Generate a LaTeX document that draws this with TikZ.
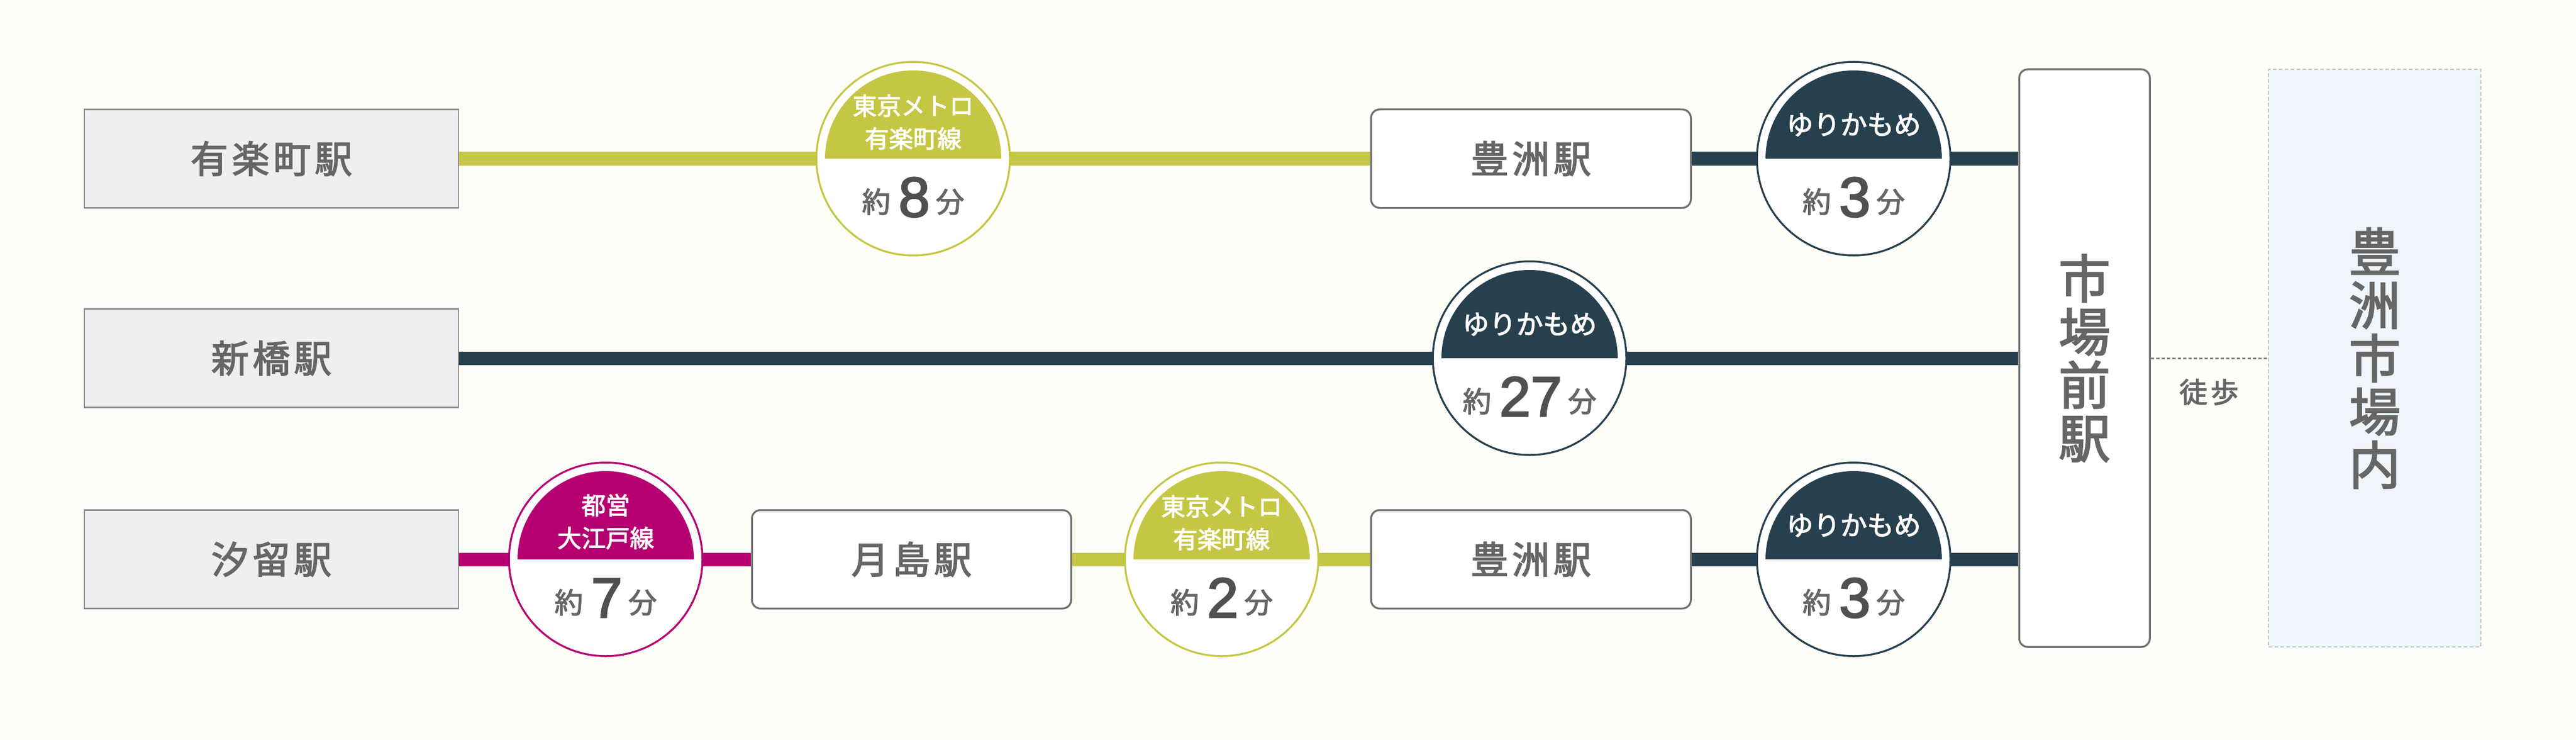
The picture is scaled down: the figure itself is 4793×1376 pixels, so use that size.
\documentclass[tikz,border=0pt]{standalone}
\usepackage{fontspec}
\setmainfont{Noto Sans CJK JP}[FakeBold=2.5]
\newfontfamily\digitfont{Liberation Sans}[FakeBold=2.5]
\newfontfamily\lsfont{Noto Sans CJK JP}[LetterSpace=10,FakeBold=2.5]
\usetikzlibrary{calc}
\definecolor{bg}{RGB}{254,254,249}
\definecolor{olive}{RGB}{197,199,68}
\definecolor{navy}{RGB}{39,64,78}
\definecolor{lmag}{RGB}{182,0,113}
\definecolor{txt}{RGB}{102,102,102}
\definecolor{digitc}{RGB}{80,80,80}
\definecolor{boxgray}{RGB}{112,112,112}
\definecolor{leftfill}{RGB}{239,239,241}
\definecolor{leftedge}{RGB}{138,138,138}
\definecolor{marketfill}{RGB}{239,245,250}
\definecolor{marketedge}{RGB}{195,195,195}
\definecolor{walkc}{RGB}{128,128,128}
\newcommand\mybadge[7]{%
  \node[badge=#3] (#1) at #2 {};
  \fill[#3] (#1.center) ++(-164,0) arc[start angle=180,end angle=360,radius=164] -- cycle;
  \node[labeltext, font=#7] (#1-line) at ($(#1.center)+(0,#5)$) {#4};
  \node[timetext, anchor=base] (#1-time) at ($(#1.center)+(0,108)$)
    {\raisebox{8bp}{約}\hspace{15bp}{\digitfont\color{digitc}\fontsize{105bp}{105bp}\selectfont #6}\hspace{11bp}\raisebox{8bp}{分}};
}
\begin{document}
\begin{tikzpicture}[x=1bp,y=-1bp,
  leftbox/.style={draw=leftedge, fill=leftfill, line width=2.5bp, minimum width=696bp,
    minimum height=183bp, inner sep=0pt, text=txt, font=\lsfont\fontsize{70bp}{84bp}\selectfont},
  stationbox/.style={draw=boxgray, fill=white, line width=3.5bp, rounded corners=16bp,
    minimum width=595bp, minimum height=183bp, inner sep=0pt, text=txt,
    font=\lsfont\fontsize{70bp}{84bp}\selectfont},
  tallbox/.style={draw=boxgray, fill=white, line width=3.5bp, rounded corners=16bp,
    minimum width=243bp, minimum height=1074bp, inner sep=0pt, text=txt, align=center,
    font=\fontsize{96bp}{99bp}\selectfont},
  marketbox/.style={draw=marketedge, fill=marketfill, line width=2bp, dash pattern=on 7bp off 4bp,
    minimum width=395bp, minimum height=1073bp, inner sep=0pt, text=txt, align=center,
    font=\fontsize{96bp}{99bp}\selectfont},
  railline/.style={line width=25bp},
  badge/.style={circle, draw=#1, fill=white, line width=3.5bp, minimum size=360bp, inner sep=0pt},
  labeltext/.style={text=white, align=center, inner sep=0pt},
  timetext/.style={text=txt, inner sep=0pt, font=\fontsize{53bp}{60bp}\selectfont},
  walkline/.style={draw=walkc, line width=3bp, dash pattern=on 6bp off 4bp}
]
\fill[bg] (0,0) rectangle (4793,1376);
\useasboundingbox (0,0) rectangle (4793,1376);

% stations
\node[leftbox] (yurakucho) at (505,295) {有楽町駅};
\node[leftbox] (shimbashi) at (505,666) {新橋駅};
\node[leftbox] (shiodome) at (505,1040) {汐留駅};
\node[stationbox] (toyosuA) at (2848.5,295) {豊洲駅};
\node[stationbox, minimum width=594bp] (tsukishima) at (1696,1040) {月島駅};
\node[stationbox] (toyosuB) at (2848.5,1040) {豊洲駅};
\node[tallbox] (shijomae) at (3878.5,666) {市\\場\\前\\駅};
\node[marketbox] (market) at (4418.5,666) {};
\node[text=txt, align=center, font=\fontsize{96bp}{99bp}\selectfont] (marketlabel) at (market.center) {豊\\洲\\市\\場\\内};

% rail lines
\draw[railline, olive] (yurakucho.east) -- (toyosuA.west);
\draw[railline, navy] (toyosuA.east) -- (toyosuA.east -| shijomae.west);
\draw[railline, navy] (shimbashi.east) -- (shimbashi.east -| shijomae.west);
\draw[railline, lmag] (shiodome.east) -- (tsukishima.west);
\draw[railline, olive] (tsukishima.east) -- (toyosuB.west);
\draw[railline, navy] (toyosuB.east) -- (toyosuB.east -| shijomae.west);

% walk
\draw[walkline] (shijomae.east) -- (market.west);
\node[text=txt, inner sep=0pt, font=\fontsize{52bp}{60bp}\selectfont] (walk) at (4110,729) {徒\hspace{6bp}歩};

% badges
\mybadge{b1}{(1699,295)}{olive}{東京メトロ\\有楽町線}{-68}{8}{\fontsize{45bp}{61bp}\selectfont}
\mybadge{b2}{(3449,295)}{navy}{ゆりかもめ}{-63}{3}{\fontsize{50bp}{60bp}\selectfont}
\mybadge{b3}{(2846,666)}{navy}{ゆりかもめ}{-63}{27}{\fontsize{50bp}{60bp}\selectfont}
\mybadge{b4}{(1127,1040)}{lmag}{都営\\大江戸線}{-70}{7}{\fontsize{45bp}{61bp}\selectfont}
\mybadge{b5}{(2273,1040)}{olive}{東京メトロ\\有楽町線}{-68}{2}{\fontsize{45bp}{61bp}\selectfont}
\mybadge{b6}{(3449,1040)}{navy}{ゆりかもめ}{-63}{3}{\fontsize{50bp}{60bp}\selectfont}
\end{tikzpicture}
\end{document}
